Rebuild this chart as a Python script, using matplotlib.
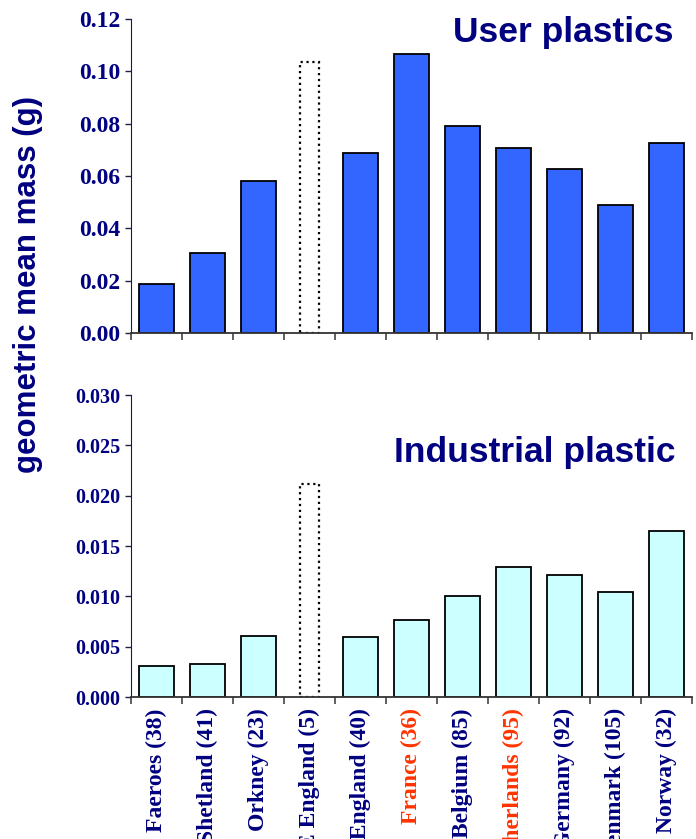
import numpy as np
from matplotlib import pyplot as plt
from matplotlib.ticker import FormatStrFormatter

# Data
regions = ["Faeroes (38)", "Shetland (41)", "Orkney (23)", "NE England (5)",
           "SE England (40)", "France (36)", "Belgium (85)", "Netherlands (95)",
           "Germany (92)", "Denmark (105)", "Norway (32)"]
user_mass = [0.0187, 0.0306, 0.058, 0.1036, 0.0688, 0.1066, 0.0791, 0.0707,
             0.0627, 0.0489, 0.0726]
industrial_mass = [0.0031, 0.0033, 0.0061, 0.0212, 0.0060, 0.0077, 0.0100,
                   0.0129, 0.0121, 0.0104, 0.0165]
small_sample = [False, False, False, True, False, False, False, False,
                False, False, False]
red_labels = ["France (36)", "Netherlands (95)"]

navy = "#000080"
red = "#FF3300"
tick_font = "Liberation Serif"
title_font = "Liberation Sans"


def draw_panel(ax, values, colour, ymax, step, fmt, ysize):
    x = np.arange(len(values))
    for i, v in enumerate(values):
        if small_sample[i]:
            ax.bar(x[i], v, width=0.36, color="white", edgecolor="black",
                   linestyle=":", linewidth=1.6)
        else:
            ax.bar(x[i], v, width=0.68, color=colour, edgecolor="black",
                   linewidth=1.3)
    ax.set_xlim(-0.5, len(values) - 0.5)
    ax.set_ylim(0, ymax)
    ax.set_yticks(np.arange(0, ymax + step / 2, step))
    ax.yaxis.set_major_formatter(FormatStrFormatter(fmt))
    ax.set_xticks(x)
    ax.set_xticks(np.arange(-0.5, len(values), 1.0), minor=True)
    ax.tick_params(axis="x", which="major", length=0)
    ax.tick_params(axis="x", which="minor", length=5, width=1.2, color="#444444")
    ax.tick_params(axis="y", length=4, width=1, color="#202040",
                   labelcolor=navy, labelsize=ysize)
    for lab in ax.get_yticklabels():
        lab.set_fontfamily(tick_font)
        lab.set_fontweight("bold")
    for s in ["top", "right"]:
        ax.spines[s].set_visible(False)
    ax.spines["left"].set_color("#1a1a50")
    ax.spines["bottom"].set_color("#333333")
    ax.spines["bottom"].set_linewidth(1.3)


fig = plt.figure(figsize=(6.96, 8.39), dpi=100)
ax1 = fig.add_axes([0.1882, 0.6031, 0.806, 0.3743])
ax2 = fig.add_axes([0.1882, 0.1692, 0.806, 0.3600])

draw_panel(ax1, user_mass, "#3366FF", 0.12, 0.02, "%.2f", 17)
draw_panel(ax2, industrial_mass, "#CCFFFF", 0.030, 0.005, "%.3f", 14.5)

ax1.set_xticklabels([])
ax2.set_xticklabels(regions, rotation=90, va="top", ha="center",
                    fontfamily=tick_font, fontweight="bold", fontsize=17)
ax2.tick_params(axis="x", which="major", pad=8)
for lab in ax2.get_xticklabels():
    lab.set_color(red if lab.get_text() in red_labels else navy)

# Panel titles and shared y label
fig.text(0.968, 0.950, "User plastics", ha="right", va="baseline",
         fontfamily=title_font, fontweight="bold", fontsize=25.5, color=navy)
fig.text(0.970, 0.4493, "Industrial plastic", ha="right", va="baseline",
         fontfamily=title_font, fontweight="bold", fontsize=25.5, color=navy)
fig.text(0.040, 0.6615, "geometric mean mass (g)", rotation=90,
         ha="center", va="center", fontfamily=title_font, fontweight="bold",
         fontsize=22.5, color=navy)

fig.savefig("out.png", dpi=100)
